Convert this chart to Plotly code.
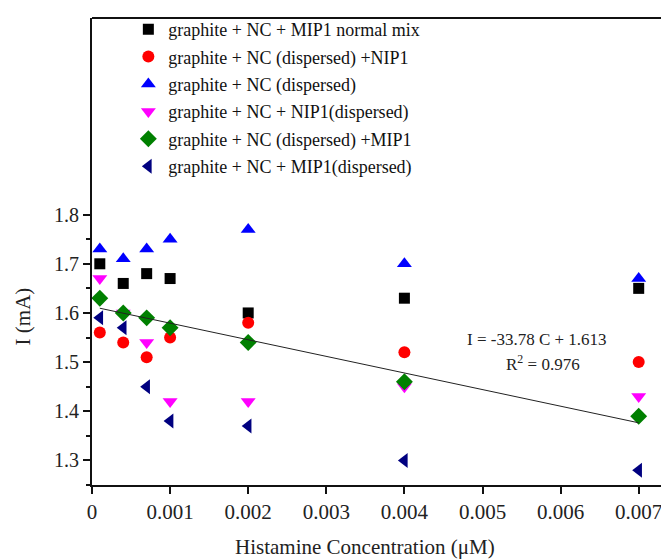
import plotly.graph_objects as go

conc = [0.0001, 0.0004, 0.0007, 0.001, 0.002, 0.004, 0.007]

names = [
    "graphite + NC + MIP1 normal mix",
    "graphite + NC (dispersed) +NIP1",
    "graphite + NC (dispersed)",
    "graphite + NC + NIP1(dispersed)",
    "graphite + NC (dispersed) +MIP1",
    "graphite + NC + MIP1(dispersed)",
]
black_sq = [1.70, 1.66, 1.68, 1.67, 1.60, 1.63, 1.65]
red_circ = [1.56, 1.54, 1.51, 1.55, 1.58, 1.52, 1.50]
blue_up = [1.73, 1.71, 1.73, 1.75, 1.77, 1.70, 1.67]
mag_down = [1.67, 1.60, 1.54, 1.42, 1.42, 1.45, 1.43]
green_dia = [1.63, 1.60, 1.59, 1.57, 1.54, 1.46, 1.39]
navy_left = [1.59, 1.57, 1.45, 1.38, 1.37, 1.30, 1.28]

slope = -33.78
intercept = 1.613
fit_x = [0.0001, 0.007]

x_ticks = [0, 0.001, 0.002, 0.003, 0.004, 0.005, 0.006, 0.007]
x_ticktext = ["0", "0.001", "0.002", "0.003", "0.004", "0.005", "0.006", "0.007"]
y_ticks = [1.3, 1.4, 1.5, 1.6, 1.7, 1.8]
y_ticktext = ["1.3", "1.4", "1.5", "1.6", "1.7", "1.8"]
y_minor = [1.25, 1.35, 1.45, 1.55, 1.65, 1.75]

series = [black_sq, red_circ, blue_up, mag_down, green_dia, navy_left]
colors = ["#000000", "#ff0000", "#0000ff", "#ff00ff", "#008000", "#000080"]
symbols = ["square", "circle", "triangle-up", "triangle-down", "diamond", "triangle-left"]
sizes = [11, 12, 13, 13, 13, 13]

font_fam = "Liberation Serif, Times New Roman, serif"

fig = go.Figure()
for i, (ys, c, s, sz, n) in enumerate(zip(series, colors, symbols, sizes, names)):
    fig.add_trace(go.Scatter(
        x=conc, y=ys, mode="markers", name=n, legendgroup=f"g{i}",
        marker=dict(color=c, symbol=s, size=sz, line=dict(width=0)),
    ))

fig.add_trace(go.Scatter(
    x=fit_x, y=[slope * x + intercept for x in fit_x], mode="lines",
    line=dict(color="#222222", width=1), showlegend=False, hoverinfo="skip",
))

fig.add_annotation(x=0.0057, y=1.545, xref="x", yref="y",
                   text="I = -33.78 C + 1.613", showarrow=False,
                   font=dict(family=font_fam, size=17, color="#222"))
fig.add_annotation(x=0.00577, y=1.498, xref="x", yref="y",
                   text="R<sup>2</sup> = 0.976", showarrow=False,
                   font=dict(family=font_fam, size=17, color="#222"))

# y-axis title (placed lower than plot centre, as in the reference)
fig.add_annotation(x=-0.1196, y=0.361, xref="paper", yref="paper",
                   text="I (mA)", textangle=-90, showarrow=False,
                   xanchor="center", yanchor="middle",
                   font=dict(family=font_fam, size=21, color="#222"))

# x-axis title
fig.add_annotation(x=0.473, y=-0.133, xref="paper", yref="paper",
                   text="Histamine Concentration (μM)", showarrow=False,
                   xanchor="center", yanchor="middle",
                   font=dict(family=font_fam, size=21, color="#222"))

# top frame line
fig.add_shape(type="line", xref="paper", yref="paper", x0=0, x1=1, y0=1, y1=1,
              line=dict(color="#111", width=2))

fig.update_layout(
    width=669, height=559,
    margin=dict(l=84, r=8, t=3, b=82),
    paper_bgcolor="white", plot_bgcolor="white",
    font=dict(family=font_fam, size=20, color="#222"),
    showlegend=True,
    legend=dict(x=0.063, y=1.015, xanchor="left", yanchor="top",
                bgcolor="rgba(0,0,0,0)", font=dict(family=font_fam, size=18, color="#111"),
                tracegroupgap=1, traceorder="grouped"),
    xaxis=dict(range=[0, 0.007388], tickvals=x_ticks, ticktext=x_ticktext,
               tickfont=dict(size=21),
               showline=True, linecolor="#111", linewidth=2, ticks="outside", ticklen=7,
               tickwidth=1.5, tickcolor="#111", showgrid=False, zeroline=False),
    yaxis=dict(range=[1.25, 2.2], tickvals=y_ticks, ticktext=y_ticktext,
               tickfont=dict(size=20),
               showline=True, linecolor="#111", linewidth=2, ticks="outside", ticklen=7,
               tickwidth=1.5, tickcolor="#111", showgrid=False, zeroline=False,
               minor=dict(tickvals=y_minor, ticks="outside",
                          ticklen=4, tickwidth=1.5, tickcolor="#111")),
)

fig.write_html("out.html")
